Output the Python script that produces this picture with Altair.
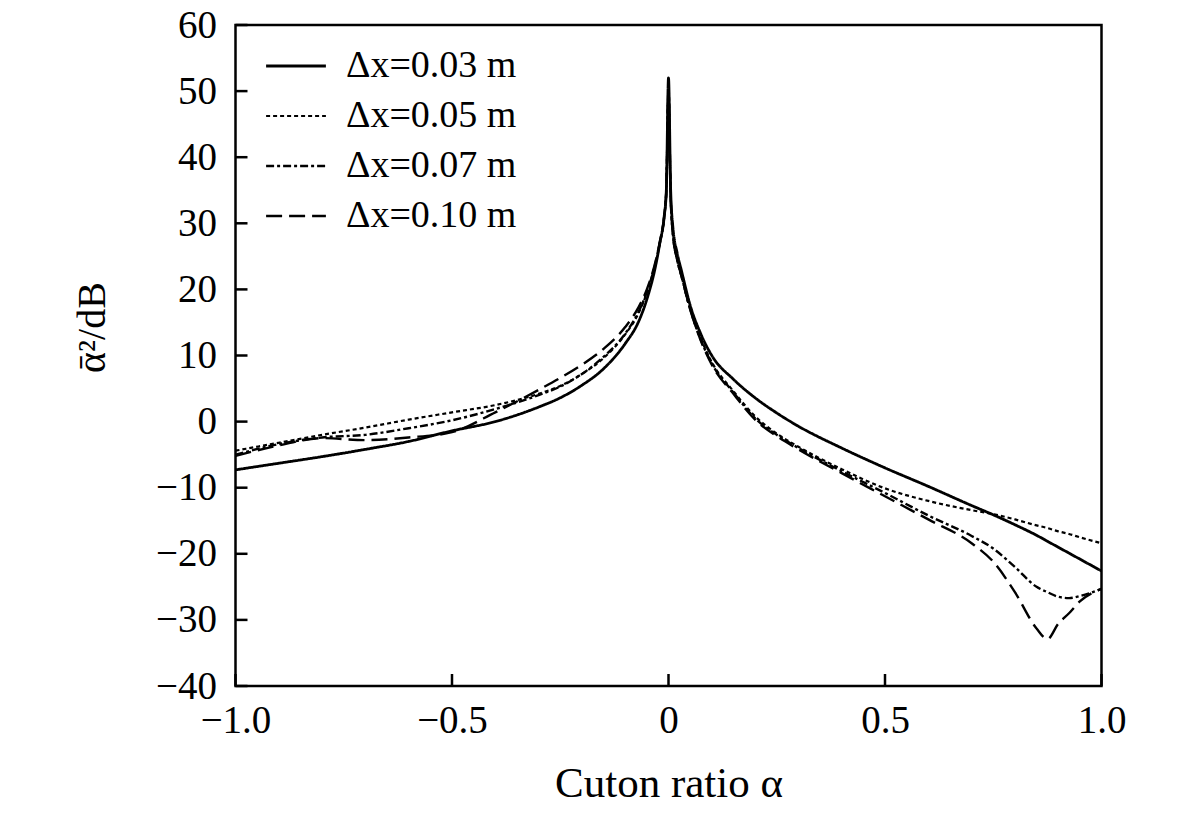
import altair as alt
import pandas as pd

# ---- data ----
x_vals = [-1.0, -0.9, -0.8, -0.7, -0.6, -0.5, -0.4, -0.3, -0.25, -0.2, -0.15, -0.1,
          -0.07, -0.05, -0.03, -0.02, -0.01, -0.005, 0.0,
          0.005, 0.01, 0.02, 0.03, 0.05, 0.075, 0.1, 0.15, 0.2, 0.25, 0.3, 0.4,
          0.5, 0.6, 0.7, 0.75, 0.8, 0.85, 0.875, 0.9, 0.925, 0.95, 1.0]

y_003 = [-7.3, -6.3, -5.3, -4.2, -3.0, -1.4, 0.0, 2.2, 3.6, 5.5, 8.0, 11.8,
         15.0, 18.5, 23.5, 27.0, 31.0, 35.0, 52.0,
         35.0, 29.5, 25.5, 22.8, 17.6, 13.2, 10.0, 6.4, 3.6, 1.3, -0.7, -4.0,
         -7.0, -9.8, -12.7, -14.1, -15.6, -17.2, -18.1, -19.0, -19.9, -20.8, -22.6]

y_005 = [-4.4, -3.2, -2.0, -0.9, 0.3, 1.4, 2.5, 4.2, 5.4, 7.2, 9.6, 13.2,
         16.3, 19.5, 24.0, 27.0, 31.0, 35.0, 51.0,
         34.0, 28.5, 24.5, 22.0, 17.0, 12.5, 9.0, 4.6, 0.8, -1.8, -3.8, -7.2,
         -10.1, -12.0, -13.4, -14.0, -14.8, -15.7, -16.1, -16.6, -17.0, -17.5, -18.4]

y_007 = [-5.0, -3.4, -2.4, -2.0, -1.0, 0.2, 1.9, 4.0, 5.3, 7.2, 9.8, 13.3,
         16.5, 19.6, 24.0, 27.0, 31.0, 35.0, 50.0,
         34.0, 28.5, 24.5, 22.0, 17.0, 12.3, 8.8, 4.4, 0.5, -2.0, -4.0, -7.5,
         -10.8, -14.2, -17.3, -19.2, -22.0, -25.0, -25.8, -26.5, -26.7, -26.4, -25.3]

y_010 = [-5.2, -3.6, -2.5, -2.8, -2.4, -1.6, 1.4, 4.8, 6.6, 8.6, 11.0, 14.3,
         17.2, 20.0, 24.2, 27.2, 31.0, 35.0, 49.0,
         34.0, 28.5, 24.5, 22.0, 17.0, 12.2, 8.6, 4.2, 0.3, -2.2, -4.2, -7.8,
         -11.3, -14.8, -18.4, -21.2, -25.8, -31.3, -32.9, -30.6, -29.0, -27.2, -25.3]

series_labels = ["Δx=0.03 m", "Δx=0.05 m", "Δx=0.07 m", "Δx=0.10 m"]
x_ticks = [-1.0, -0.5, 0.0, 0.5, 1.0]
y_ticks = [-40, -30, -20, -10, 0, 10, 20, 30, 40, 50, 60]

rows = []
for lab, ys in zip(series_labels, [y_003, y_005, y_007, y_010]):
    for xv, yv in zip(x_vals, ys):
        rows.append({"x": xv, "y": yv, "series": lab})
df = pd.DataFrame(rows)

W, H = 866, 661
FONT = "Liberation Serif"
xscale = alt.Scale(domain=[-1, 1], nice=False, zero=False)
yscale = alt.Scale(domain=[-40, 60], nice=False, zero=False)

x_axis = alt.Axis(values=x_ticks, title="Cuton ratio α",
                  labelExpr="datum.value == 0 ? '0' : format(datum.value, '.1f')",
                  labelPadding=15, labelFlush=False, labelOverlap=False,
                  titleY=110, titleBaseline="alphabetic", titleFontSize=43)
y_axis = alt.Axis(values=y_ticks, title="ᾱ²/dB", labelPadding=19,
                  labelOverlap=False, titleAngle=270, titleX=-131, titleY=302,
                  titleAlign="center", titleBaseline="alphabetic",
                  titleFontSize=40)

lines = alt.Chart(df).mark_line(interpolate="monotone", color="black").encode(
    x=alt.X("x:Q", scale=xscale, axis=x_axis),
    y=alt.Y("y:Q", scale=yscale, axis=y_axis),
    strokeDash=alt.StrokeDash(
        "series:N",
        scale=alt.Scale(domain=series_labels, range=[[1, 0], [4, 3], [8, 3, 3, 3], [16, 7]]),
        legend=alt.Legend(title=None, orient="none", legendX=36, legendY=16.5,
                          symbolType="M-1.3,0H1.3", symbolSize=2116,
                          symbolStrokeWidth=2.5, symbolStrokeColor="black",
                          labelFont=FONT, labelFontSize=38, labelColor="black",
                          labelLimit=0, labelOffset=25.5, rowPadding=6, padding=0,
                          symbolOffset=0),
    ),
    strokeWidth=alt.StrokeWidth(
        "series:N",
        scale=alt.Scale(type="ordinal", domain=series_labels, range=[2.8, 2.2, 2.4, 2.4]),
        legend=None,
    ),
)

xt = alt.Chart(pd.DataFrame({"x": x_ticks})).mark_rule(color="black", strokeWidth=2.5).encode(
    x=alt.X("x:Q", scale=xscale, axis=x_axis),
    y=alt.value(H), y2=alt.value(H - 12),
)
yt = alt.Chart(pd.DataFrame({"y": y_ticks})).mark_rule(color="black", strokeWidth=2.5).encode(
    y=alt.Y("y:Q", scale=yscale, axis=y_axis),
    x=alt.value(0), x2=alt.value(12),
)

chart = alt.layer(lines, xt, yt).properties(
    width=W, height=H,
    padding={"left": 227.5, "top": 17, "right": 71, "bottom": 120},
    autosize=alt.AutoSizeParams(type="none"),
    background="white",
).configure_view(
    stroke="black", strokeWidth=2.5
).configure_axis(
    domain=False, ticks=False, tickSize=0, grid=False,
    labelFont=FONT, labelFontSize=39, labelColor="black",
    titleFont=FONT, titleFontSize=38, titleColor="black", titleFontWeight="normal",
)

chart.save("out.html", embed_options={"renderer": "svg", "actions": False})
